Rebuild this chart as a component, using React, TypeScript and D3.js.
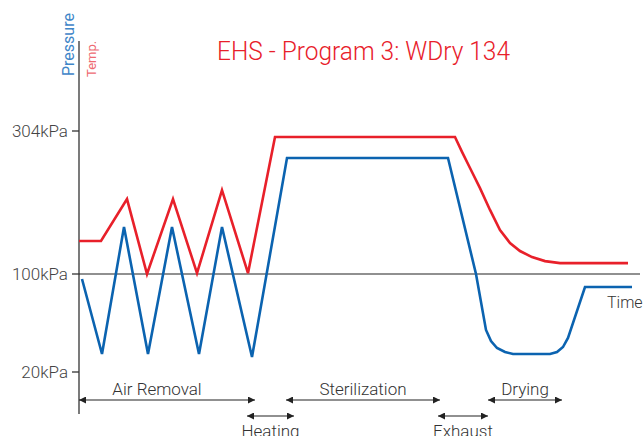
import { useRef, useEffect } from "react";
import * as d3 from "d3";

// time in arbitrary units (cycle progress)
const pressureTime = [0.3, 2.3, 4.5, 6.9, 9.3, 12, 14.3, 17.3, 20.8, 36.9, 39.7, 40.7, 41.2, 41.8, 42.6, 43.4, 47.1, 47.8, 48.4, 48.9, 50.6, 55.3];
const pressureKPa = [95.9, 34.7, 167, 34.7, 167, 34.7, 167, 32.2, 265.5, 265.5, 100, 54.3, 45.3, 39.6, 36.3, 34.7, 34.7, 36.3, 40.4, 47.8, 89.4, 89.4];

const tempTime = [0, 2.2, 4.8, 6.8, 9.4, 11.8, 14.3, 16.9, 19.6, 37.6, 38.3, 39.1, 40.1, 41.1, 42.1, 43.1, 44.1, 45.3, 46.6, 48.1, 49.6, 54.9];
const tempC = [108.2, 108.2, 118.6, 100, 118.6, 100.2, 120.8, 100.2, 134, 134, 130.3, 126.3, 121.3, 115.9, 110.9, 107.7, 105.7, 104.2, 103.2, 102.7, 102.7, 102.7];

const pressureTicks = [20, 100, 304];

const phaseNames = ["Air Removal", "Heating", "Sterilization", "Exhaust", "Drying"];
const phaseStart = [0, 16.8, 20.7, 35.9, 40.9];
const phaseEnd = [17.6, 21.5, 36.1, 40.9, 48.3];
const phaseRow = [0, 1, 0, 1, 0];

const BLUE = "#0b63b0";
const RED = "#e8202a";
const FONT = "Roboto, 'Open Sans', sans-serif";

export default function App() {
  const svgRef = useRef<SVGSVGElement>(null);

  useEffect(() => {
    if (!svgRef.current) return;
    const width = 643;
    const height = 436;
    const svg = d3.select(svgRef.current);
    svg.selectAll("*").remove();
    svg.attr("viewBox", `0 0 ${width} ${height}`);

    const x = d3.scaleLinear().domain([0, 56]).range([79, 639]);
    const y = d3.scaleLinear().domain(pressureTicks).range([372, 274, 131]);
    const yTemp = d3.scaleLinear().domain([100, 134]).range([274, 137]);

    const defs = svg.append("defs");
    defs
      .append("marker")
      .attr("id", "arr")
      .attr("viewBox", "0 0 10 10")
      .attr("refX", 10)
      .attr("refY", 5)
      .attr("markerWidth", 9)
      .attr("markerHeight", 7)
      .attr("markerUnits", "userSpaceOnUse")
      .attr("orient", "auto-start-reverse")
      .append("path")
      .attr("d", "M0,0L10,5L0,10Z")
      .attr("fill", "#222");

    // title
    svg
      .append("text")
      .attr("x", 217)
      .attr("y", 60)
      .attr("textLength", 293)
      .attr("lengthAdjust", "spacingAndGlyphs")
      .attr("fill", RED)
      .style("font", `300 25px ${FONT}`)
      .text("EHS - Program 3: WDry 134");

    // axis labels
    svg
      .append("text")
      .attr("transform", "translate(74,76) rotate(-90)")
      .attr("fill", "#3f86c8")
      .style("font", `16px ${FONT}`)
      .text("Pressure");
    svg
      .append("text")
      .attr("transform", "translate(96,77) rotate(-90)")
      .attr("fill", "#ee6a72")
      .style("font", `13px ${FONT}`)
      .text("Temp.");

    // y axis
    svg
      .append("line")
      .attr("x1", 79)
      .attr("x2", 79)
      .attr("y1", 41)
      .attr("y2", 414)
      .attr("stroke", "#333")
      .attr("stroke-width", 1.3);

    const ticks = svg.append("g");
    ticks
      .selectAll("line")
      .data(pressureTicks)
      .join("line")
      .attr("x1", 72)
      .attr("x2", 79)
      .attr("y1", (d) => y(d))
      .attr("y2", (d) => y(d))
      .attr("stroke", "#333")
      .attr("stroke-width", 1.3);
    ticks
      .selectAll("text")
      .data(pressureTicks)
      .join("text")
      .attr("x", 68)
      .attr("y", (d) => y(d) + 6)
      .attr("text-anchor", "end")
      .attr("fill", "#444")
      .style("font", `300 17px ${FONT}`)
      .text((d) => `${d}kPa`);

    // atmospheric baseline
    svg
      .append("line")
      .attr("x1", 79)
      .attr("x2", 640)
      .attr("y1", y(100))
      .attr("y2", y(100))
      .attr("stroke", "#222")
      .attr("stroke-width", 1.2);

    svg
      .append("text")
      .attr("x", 607)
      .attr("y", 308)
      .attr("fill", "#333")
      .style("font", `300 16px ${FONT}`)
      .text("Time");

    // temperature line
    const tempLine = d3
      .line<number>()
      .x((_, i) => x(tempTime[i]))
      .y((d) => yTemp(d));
    svg
      .append("path")
      .attr("d", tempLine(tempC))
      .attr("fill", "none")
      .attr("stroke", RED)
      .attr("stroke-width", 2.6)
      .attr("stroke-linejoin", "miter");

    // pressure line
    const pressLine = d3
      .line<number>()
      .x((_, i) => x(pressureTime[i]))
      .y((d) => y(d));
    svg
      .append("path")
      .attr("d", pressLine(pressureKPa))
      .attr("fill", "none")
      .attr("stroke", BLUE)
      .attr("stroke-width", 2.6)
      .attr("stroke-linejoin", "miter");

    // phases
    const rowY = [400, 416];
    const phases = svg
      .append("g")
      .selectAll("g")
      .data(phaseNames)
      .join("g");
    phases
      .append("line")
      .attr("x1", (_, i) => x(phaseStart[i]))
      .attr("x2", (_, i) => x(phaseEnd[i]))
      .attr("y1", (_, i) => rowY[phaseRow[i]])
      .attr("y2", (_, i) => rowY[phaseRow[i]])
      .attr("stroke", "#222")
      .attr("stroke-width", 1.2)
      .attr("marker-start", "url(#arr)")
      .attr("marker-end", "url(#arr)");
    phases
      .append("text")
      .attr("x", (_, i) => (x(phaseStart[i]) + x(phaseEnd[i])) / 2 - (i === 0 ? 10 : 0))
      .attr("y", (_, i) => (phaseRow[i] === 0 ? 395 : 437))
      .attr("text-anchor", "middle")
      .attr("fill", "#333")
      .style("font", `300 17px ${FONT}`)
      .text((d) => d);
  }, []);

  return (
    <svg
      ref={svgRef}
      width={643}
      height={436}
      style={{ position: "absolute", left: 0, top: 0, background: "#fff" }}
    />
  );
}
